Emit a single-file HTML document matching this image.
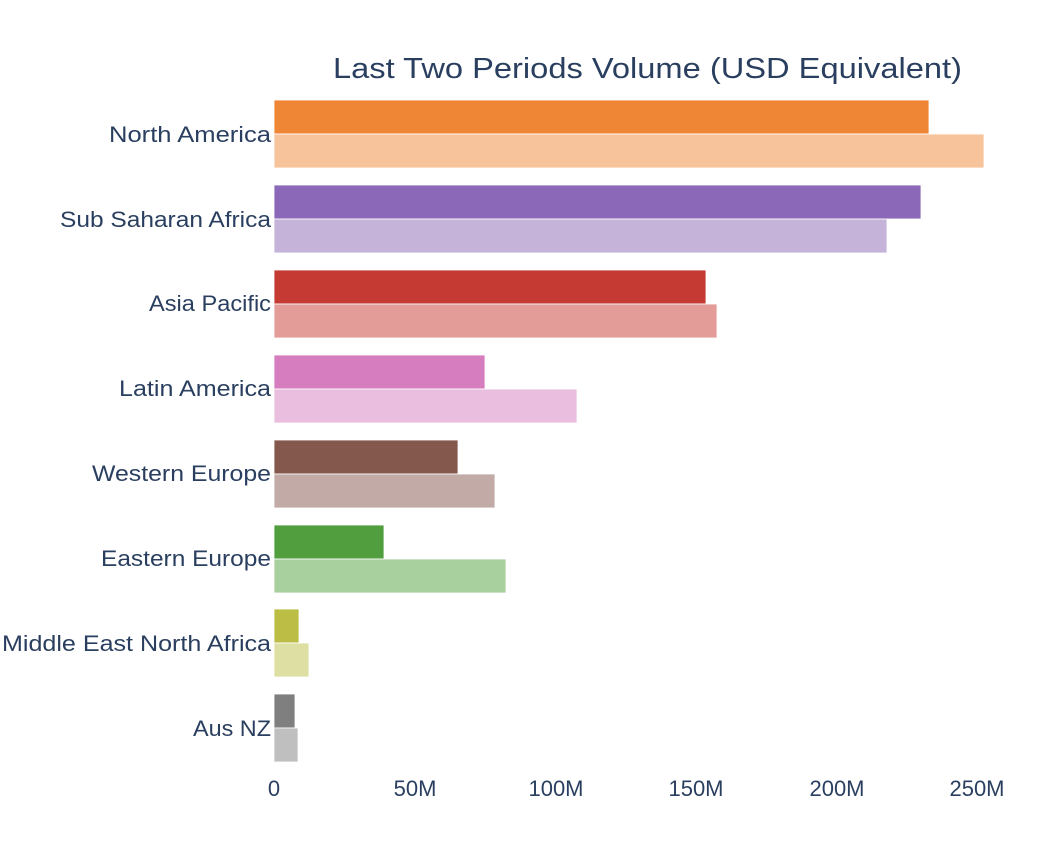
<!DOCTYPE html>
<html><head><meta charset="utf-8"><style>body{margin:0;background:#fff}svg{display:block}text{font-family:"Liberation Sans",sans-serif;fill:#2a3f5f}</style></head>
<body>
<svg width="1062" height="842" xmlns="http://www.w3.org/2000/svg">
<text x="333" y="78" font-size="29" textLength="629" lengthAdjust="spacingAndGlyphs">Last Two Periods Volume (USD Equivalent)</text>
<g stroke="#fff" stroke-width="0.8">
<rect x="274" y="100" width="655" height="34" fill="#ef8636"/>
<rect x="274" y="134" width="710" height="34" fill="#f7c39b"/>
<rect x="274" y="185" width="647" height="34" fill="#8c69b8"/>
<rect x="274" y="219" width="613" height="34" fill="#c5b3da"/>
<rect x="274" y="270" width="432" height="34" fill="#c53a32"/>
<rect x="274" y="304" width="443" height="34" fill="#e39c98"/>
<rect x="274" y="355" width="211" height="34" fill="#d57dbf"/>
<rect x="274" y="389" width="303" height="34" fill="#eabedf"/>
<rect x="274" y="440" width="184" height="34" fill="#85584e"/>
<rect x="274" y="474" width="221" height="34" fill="#c2aba6"/>
<rect x="274" y="525" width="110" height="34" fill="#519e3e"/>
<rect x="274" y="559" width="232" height="34" fill="#a8cf9e"/>
<rect x="274" y="609" width="25" height="34" fill="#bcbd45"/>
<rect x="274" y="643" width="35" height="34" fill="#dedfa2"/>
<rect x="274" y="694" width="21" height="34" fill="#7f7f7f"/>
<rect x="274" y="728" width="24" height="34" fill="#bfbfbf"/>
</g>
<g font-size="22">
<text x="109" y="142" textLength="162" lengthAdjust="spacingAndGlyphs">North America</text>
<text x="60" y="227" textLength="211" lengthAdjust="spacingAndGlyphs">Sub Saharan Africa</text>
<text x="149" y="311" textLength="122" lengthAdjust="spacingAndGlyphs">Asia Pacific</text>
<text x="119" y="396" textLength="152" lengthAdjust="spacingAndGlyphs">Latin America</text>
<text x="92" y="481" textLength="179" lengthAdjust="spacingAndGlyphs">Western Europe</text>
<text x="101" y="566" textLength="170" lengthAdjust="spacingAndGlyphs">Eastern Europe</text>
<text x="2" y="651" textLength="269" lengthAdjust="spacingAndGlyphs">Middle East North Africa</text>
<text x="193" y="736" textLength="78" lengthAdjust="spacingAndGlyphs">Aus NZ</text>
</g>
<g font-size="22" text-anchor="middle">
<text x="274" y="796">0</text>
<text x="415" y="796">50M</text>
<text x="556" y="796">100M</text>
<text x="696" y="796">150M</text>
<text x="837" y="796">200M</text>
<text x="977" y="796">250M</text>
</g>
</svg>
</body></html>
